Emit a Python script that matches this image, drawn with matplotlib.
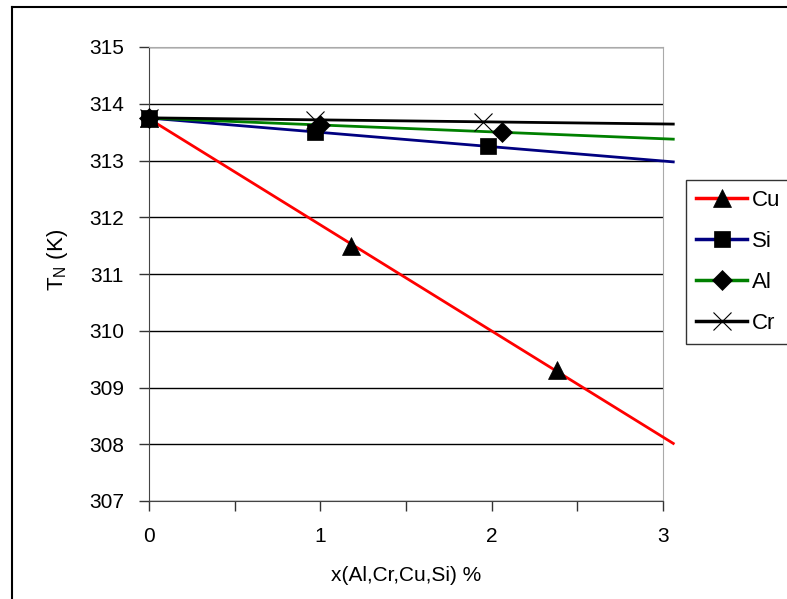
import numpy as np
import matplotlib
matplotlib.use("Agg")
import matplotlib.pyplot as plt
from matplotlib.lines import Line2D

plt.rcParams['font.family'] = ['Liberation Sans', 'DejaVu Sans']

# data
cu_x = [0, 1.18, 2.38]
cu_y = [313.75, 311.5, 309.3]
si_x = [0, 0.97, 1.98]
si_y = [313.75, 313.5, 313.25]
al_x = [0, 1.0, 2.06]
al_y = [313.75, 313.62, 313.5]
cr_x = [0, 0.97, 1.95]
cr_y = [313.75, 313.72, 313.68]

series = [
    ("Cu", cu_x, cu_y, "red", "^", 13),
    ("Si", si_x, si_y, "#000080", "s", 12),
    ("Al", al_x, al_y, "green", "D", 10),
    ("Cr", cr_x, cr_y, "black", "x", 13),
]

W, H = 787, 599
fig = plt.figure(figsize=(W / 100, H / 100), dpi=100)
ax = fig.add_axes([149 / W, 1 - 501 / H, 514 / W, 454 / H])

xfit = np.array([0, 3.06])
handles = []
for name, xs, ys, col, mk, ms in series:
    k, b = np.polyfit(xs, ys, 1)
    ax.plot(xfit, k * xfit + b, color=col, lw=2, clip_on=False, zorder=3)
    mew = 0.8 if mk == "x" else 0.5
    ax.plot(xs, ys, linestyle="none", marker=mk, ms=ms, color="black",
            mew=mew, clip_on=False, zorder=4)
    h, = ax.plot([], [], color=col, lw=2.5, marker=mk, ms=ms,
                 mfc="black", mec="black", mew=mew)
    handles.append(h)

ax.set_xlim(0, 3)
ax.set_ylim(307, 315)
ax.set_yticks(range(307, 316))
ax.set_xticks([0, 1, 2, 3])
ax.set_xticks([0.5, 1.5, 2.5], minor=True)
ax.yaxis.grid(True, color="black", lw=1)
ax.set_axisbelow(True)
ax.tick_params(axis="both", which="both", direction="out", length=7, width=1,
               labelsize=15, colors="#333333", labelcolor="black")
ax.tick_params(axis="y", pad=11)
ax.tick_params(axis="x", pad=12)
for side in ["top", "right"]:
    ax.spines[side].set_color("#aaaaaa")
for side in ["left", "bottom"]:
    ax.spines[side].set_color("#444444")

ax.set_xlabel("x(Al,Cr,Cu,Si) %", fontsize=15, labelpad=14)
ax.set_ylabel("T$_\\mathregular{N}$ (K)", fontsize=16)
ax.yaxis.set_label_coords(-0.153, 0.53)

leg = fig.legend(handles=handles, labels=[s[0] for s in series],
                 loc="upper left", bbox_to_anchor=(686 / W, 1 - 180 / H),
                 fontsize=16, frameon=True, fancybox=False, edgecolor="black",
                 handlelength=2.3, borderpad=0.45, labelspacing=0.9,
                 handletextpad=0.2, borderaxespad=0)
leg.get_frame().set_linewidth(1)

# chart frame: only top and left edges are inside the picture
fig.add_artist(Line2D([12 / W, 1], [1 - 7 / H, 1 - 7 / H],
                      transform=fig.transFigure, color="black", lw=1.5))
fig.add_artist(Line2D([12 / W, 12 / W], [0, 1 - 7 / H],
                      transform=fig.transFigure, color="black", lw=1.5))

fig.savefig("out.png", dpi=100)
